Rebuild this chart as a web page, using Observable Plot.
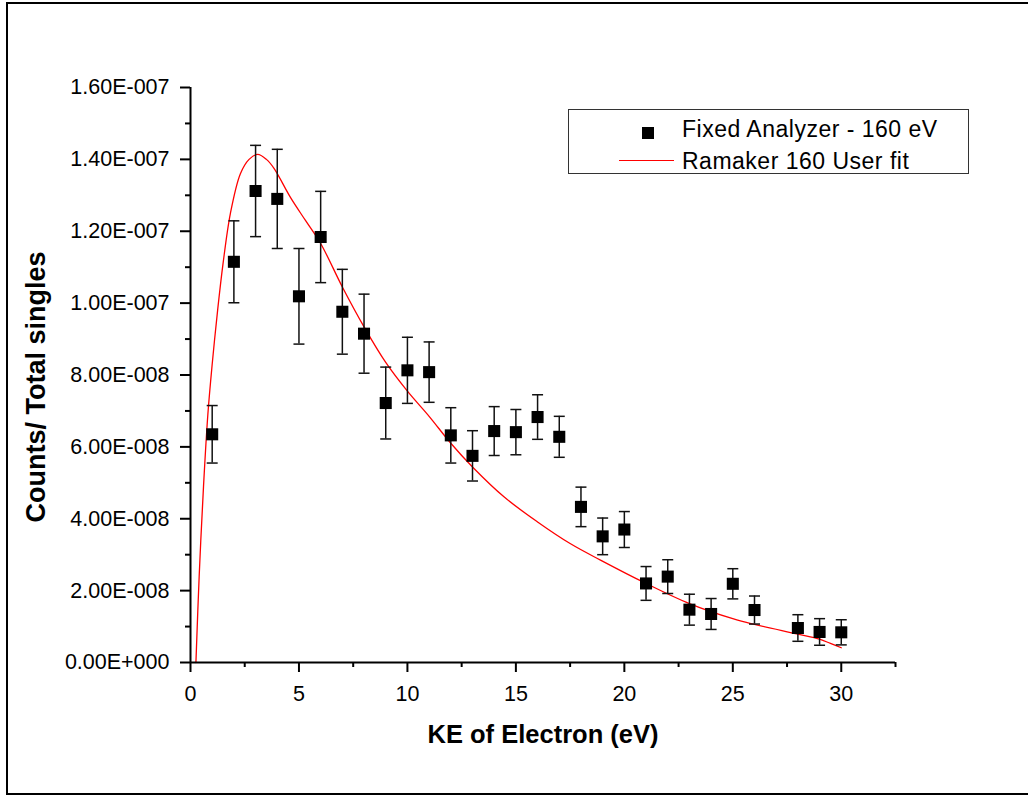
<!DOCTYPE html>
<html>
<head>
<meta charset="utf-8">
<script src="https://cdn.jsdelivr.net/npm/d3@7"></script>
<script src="https://cdn.jsdelivr.net/npm/@observablehq/plot@0.6"></script>
<style>
  html, body { margin: 0; padding: 0; background: #fff; overflow: hidden; }
  #wrap { position: relative; width: 1028px; height: 799px; }
  #frame { position: absolute; left: 6px; top: 2px; width: 1040px; height: 793px; border: 2px solid #000; box-sizing: border-box; pointer-events: none; }
  #legend { position: absolute; left: 568px; top: 109px; width: 401px; height: 65px; border: 1px solid #333; box-sizing: border-box; background: #fff;
            font-family: Arial, "Liberation Sans", sans-serif; font-size: 23px; letter-spacing: 0.5px; color: #000; }
  #legend .sq { position: absolute; left: 73px; top: 17px; width: 12px; height: 12px; background: #000; }
  #legend .ln { position: absolute; left: 50px; top: 50px; width: 55px; height: 0; border-top: 1.5px solid #ff0000; }
  #legend .t1 { position: absolute; left: 113px; top: 4px; line-height: 30px; white-space: nowrap; }
  #legend .t2 { position: absolute; left: 113px; top: 36px; line-height: 30px; white-space: nowrap; }
</style>
</head>
<body>
<div id="wrap">
  <div id="chart"></div>
  <div id="frame"></div>
  <div id="legend">
    <div class="sq"></div><div class="t1">Fixed Analyzer - 160 eV</div>
    <div class="ln"></div><div class="t2">Ramaker 160 User fit</div>
  </div>
</div>
<script>
// Measured points (KE in eV; counts in units of 1e-8)
const ke     = [1, 2, 3, 4, 5, 6, 7, 8, 9, 10, 11, 12, 13, 14, 15, 16, 17, 18, 19, 20, 21, 22, 23, 24, 25, 26, 28, 29, 30];
const counts = [6.35, 11.15, 13.12, 12.90, 10.19, 11.84, 9.76, 9.15, 7.22, 8.13, 8.08, 6.32, 5.75, 6.44, 6.41, 6.83, 6.28, 4.33, 3.51, 3.70, 2.20, 2.39, 1.47, 1.35, 2.19, 1.46, 0.96, 0.85, 0.84];
const errs   = [0.80, 1.14, 1.27, 1.38, 1.33, 1.27, 1.18, 1.10, 1.00, 0.92, 0.84, 0.77, 0.70, 0.68, 0.63, 0.62, 0.57, 0.55, 0.51, 0.50, 0.47, 0.47, 0.43, 0.43, 0.42, 0.39, 0.37, 0.37, 0.35];

// Fit curve (KE, counts in units of 1e-8)
const fitKE     = [0.25, 0.4, 0.6, 0.8, 1.0, 1.25, 1.5, 1.84, 2.3, 2.7, 3.1, 3.5, 3.85, 4.6, 5.3, 6.0, 7.0, 8.0, 9.0, 10.0, 11.0, 12.0, 13.0, 14.45, 16.0, 17.5, 18.9, 21.0, 23.0, 25.0, 26.0, 28.0, 29.0, 29.5, 30.0];
const fitCounts = [0, 2.4, 4.9, 6.9, 8.3, 9.8, 11.1, 12.5, 13.6, 14.0, 14.14, 14.0, 13.75, 12.95, 12.3, 11.66, 10.45, 9.34, 8.35, 7.55, 6.85, 6.1, 5.44, 4.61, 3.91, 3.31, 2.85, 2.2, 1.64, 1.22, 1.06, 0.79, 0.65, 0.53, 0.41];

// Ticks
const xMajor = [0, 5, 10, 15, 20, 25, 30];
const xMinor = [2.5, 7.5, 12.5, 17.5, 22.5, 27.5, 32.5];
const yMajor = [0, 2, 4, 6, 8, 10, 12, 14, 16];
const yMinor = [1, 3, 5, 7, 9, 11, 13, 15];

const xTitle = "KE of Electron (eV)";
const yTitle = "Counts/ Total singles";

const points = ke.map((k, i) => ({ke: k, y: counts[i], err: errs[i]}));
const fit = fitKE.map((k, i) => ({ke: k, y: fitCounts[i]}));

function sci(d) {
  if (d === 0) return "0.00E+000";
  const e = Math.floor(Math.log10(d) + 1e-9);
  const m = d / Math.pow(10, e);
  const ex = e - 8;
  return m.toFixed(2) + "E" + (ex < 0 ? "-" : "+") + String(Math.abs(ex)).padStart(3, "0");
}

const capSymbol = {
  draw(context, size) {
    const w = Math.sqrt(size) / 2;
    context.moveTo(-w, 0);
    context.lineTo(w, 0);
  }
};

const font = "Arial, 'Liberation Sans', sans-serif";

const chart = Plot.plot({
  width: 1028,
  height: 799,
  marginLeft: 190,
  marginRight: 133,
  marginTop: 87,
  marginBottom: 137,
  style: {fontFamily: font, fontSize: "21.5px", color: "#000", background: "transparent", overflow: "visible"},
  x: {domain: [0, 32.5]},
  y: {domain: [0, 16]},
  marks: [
    Plot.line(fit, {x: "ke", y: "y", stroke: "#ff0000", strokeWidth: 1.3, curve: "catmull-rom"}),
    Plot.ruleX(points, {x: "ke", y1: d => d.y - d.err, y2: d => d.y + d.err, stroke: "#111", strokeWidth: 1.5}),
    Plot.dot(points, {x: "ke", y: d => d.y + d.err, symbol: capSymbol, r: 6.2, stroke: "#111", strokeWidth: 1.5, fill: "none"}),
    Plot.dot(points, {x: "ke", y: d => d.y - d.err, symbol: capSymbol, r: 6.2, stroke: "#111", strokeWidth: 1.5, fill: "none"}),
    Plot.dot(points, {x: "ke", y: "y", symbol: "square", r: 6.8, fill: "#000", stroke: "none"}),
    Plot.axisX({ticks: xMajor, tickSize: 10, tickPadding: 13, tickFormat: d => String(d), label: null, strokeWidth: 2, fontSize: 21.5}),
    Plot.axisX({ticks: xMinor, tickSize: 5, tickFormat: () => "", label: null, strokeWidth: 2}),
    Plot.axisY({ticks: yMajor, tickSize: 10, tickPadding: 11, tickFormat: sci, label: null, strokeWidth: 2, fontSize: 21.5}),
    Plot.axisY({ticks: yMinor, tickSize: 5, tickFormat: () => "", label: null, strokeWidth: 2}),
    Plot.ruleY([0], {strokeWidth: 2, stroke: "#000"}),
    Plot.ruleX([0], {strokeWidth: 2, stroke: "#000"}),
    Plot.text([xTitle], {frameAnchor: "bottom", text: d => d, dy: 80, lineAnchor: "bottom", textAnchor: "middle", fontSize: 25.5, fontWeight: "bold"}),
    Plot.text([yTitle], {frameAnchor: "left", text: d => d, rotate: -90, dx: -154, dy: 12, lineAnchor: "middle", textAnchor: "middle", fontSize: 27, fontWeight: "bold"})
  ]
});
document.getElementById("chart").appendChild(chart);
</script>
</body>
</html>
